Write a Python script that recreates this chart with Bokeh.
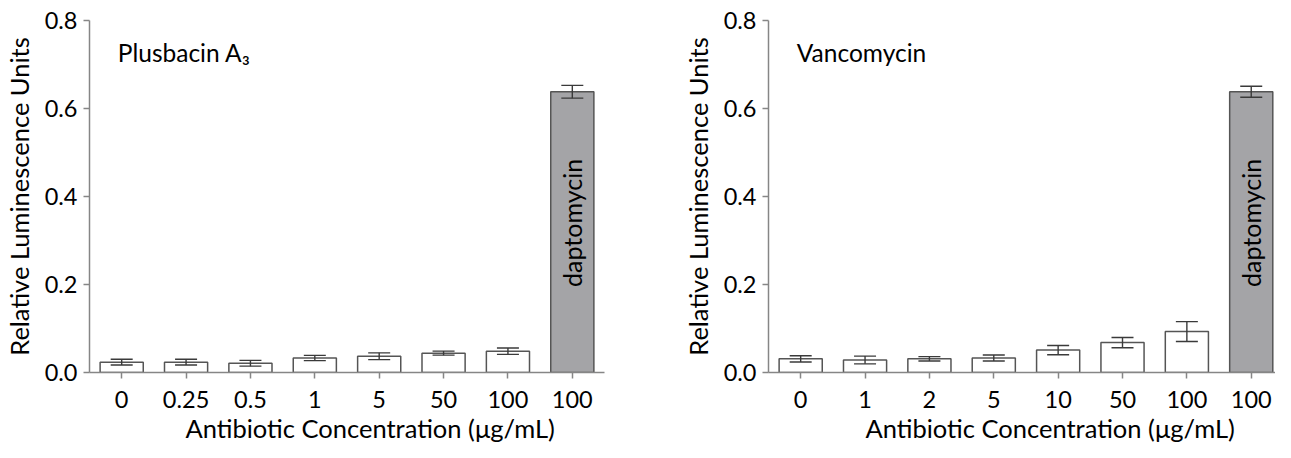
from bokeh.plotting import figure
from bokeh.layouts import row
from bokeh.models import (Range1d, FixedTicker, ColumnDataSource, Whisker, Label,
                          TeeHead, PrintfTickFormatter, Title)
from bokeh.embed import file_html
from bokeh.resources import INLINE

# ---- data ----
x_title = "Antibiotic Concentration (\u03bcg/mL)"
y_title = "Relative Luminescence Units"

left_title = "Plusbacin A\u2083"
left_labels = ["0", "0.25", "0.5", "1", "5", "50", "100", "100"]
left_values = [0.0235, 0.0235, 0.021, 0.033, 0.037, 0.044, 0.0485, 0.638]
left_errors = [0.0066, 0.0066, 0.0066, 0.006, 0.0077, 0.0046, 0.0073, 0.0145]

right_title = "Vancomycin"
right_labels = ["0", "1", "2", "5", "10", "50", "100", "100"]
right_values = [0.031, 0.0285, 0.031, 0.033, 0.051, 0.068, 0.093, 0.638]
right_errors = [0.007, 0.0088, 0.005, 0.0068, 0.0105, 0.0116, 0.0227, 0.0125]

bar_kinds = ["test"] * 7 + ["daptomycin"]
y_ticks = [0.0, 0.2, 0.4, 0.6, 0.8]

FONT = "Lato"
AXIS_COLOR = "#868686"
BAR_LINE = "#555555"
DAPTO_FILL = "#a4a4a7"


def make_panel(title, labels, values, errors, width, border_left, border_right,
               x_end, xtitle_offset):
    idx = list(range(len(labels)))
    fills = ["white" if k == "test" else DAPTO_FILL for k in bar_kinds]
    src = ColumnDataSource(dict(
        x=idx, top=values,
        upper=[v + e for v, e in zip(values, errors)],
        lower=[v - e for v, e in zip(values, errors)],
        fill=fills,
    ))
    p = figure(width=width, height=442, output_backend="svg", toolbar_location=None,
               x_range=Range1d(-0.5, x_end), y_range=Range1d(0, 0.8),
               min_border_left=border_left, min_border_right=border_right,
               min_border_top=20, min_border_bottom=10)
    p.outline_line_color = None
    p.xgrid.visible = False
    p.ygrid.visible = False
    p.background_fill_color = "white"

    p.vbar(x="x", top="top", bottom=0, width=0.67, source=src,
           fill_color="fill", line_color=BAR_LINE, line_width=1.5)
    w = Whisker(base="x", upper="upper", lower="lower", source=src, level="overlay",
                line_color="#3a3a3a", line_width=1.4,
                upper_head=TeeHead(size=22, line_color="#3a3a3a", line_width=1.4),
                lower_head=TeeHead(size=22, line_color="#3a3a3a", line_width=1.4))
    p.add_layout(w)

    # axes
    p.xaxis.ticker = FixedTicker(ticks=idx)
    p.xaxis.major_label_overrides = {i: lab for i, lab in zip(idx, labels)}
    p.yaxis.ticker = FixedTicker(ticks=y_ticks)
    p.yaxis.formatter = PrintfTickFormatter(format="%.1f")
    for ax in (p.xaxis[0], p.yaxis[0]):
        ax.axis_line_color = AXIS_COLOR
        ax.axis_line_width = 1.5
        ax.major_tick_line_color = AXIS_COLOR
        ax.major_tick_line_width = 1.5
        ax.major_tick_out = 6
        ax.major_tick_in = 0
        ax.minor_tick_line_color = None
        ax.major_label_text_font = FONT
        ax.major_label_text_font_size = "23.5px"
        ax.major_label_text_color = "black"
        ax.axis_label_text_font = FONT
        ax.axis_label_text_font_size = "25.5px"
        ax.axis_label_text_font_style = "normal"
        ax.axis_label_text_color = "black"
    p.yaxis.axis_label = y_title
    p.xaxis.major_label_standoff = 12
    p.yaxis.major_label_standoff = 6
    p.yaxis.axis_label_standoff = 8

    # x-axis title below the axis, shifted right of the frame centre as in the source
    p.add_layout(Title(text=x_title, align="left", offset=xtitle_offset, standoff=0,
                       text_font=FONT, text_font_size="25.5px",
                       text_font_style="normal", text_color="black"), "below")

    p.add_layout(Label(x=-0.06, y=0.728, text=title, text_font=FONT,
                       text_font_size="24.5px", text_color="black",
                       text_baseline="alphabetic", text_align="left"))
    p.add_layout(Label(x=idx[-1], y=0.34, text=bar_kinds[-1], text_font=FONT,
                       text_font_size="25px", text_color="black", angle=1.5708,
                       text_baseline="middle", text_align="center"))
    return p


p1 = make_panel(left_title, left_labels, left_values, left_errors,
                679, 86, 75, 7.5, 96)
p2 = make_panel(right_title, right_labels, right_values, right_errors,
                596, 86, 0, 7.377, 97)

layout = row(p1, p2)
open("out.html", "w").write(file_html(layout, INLINE))
